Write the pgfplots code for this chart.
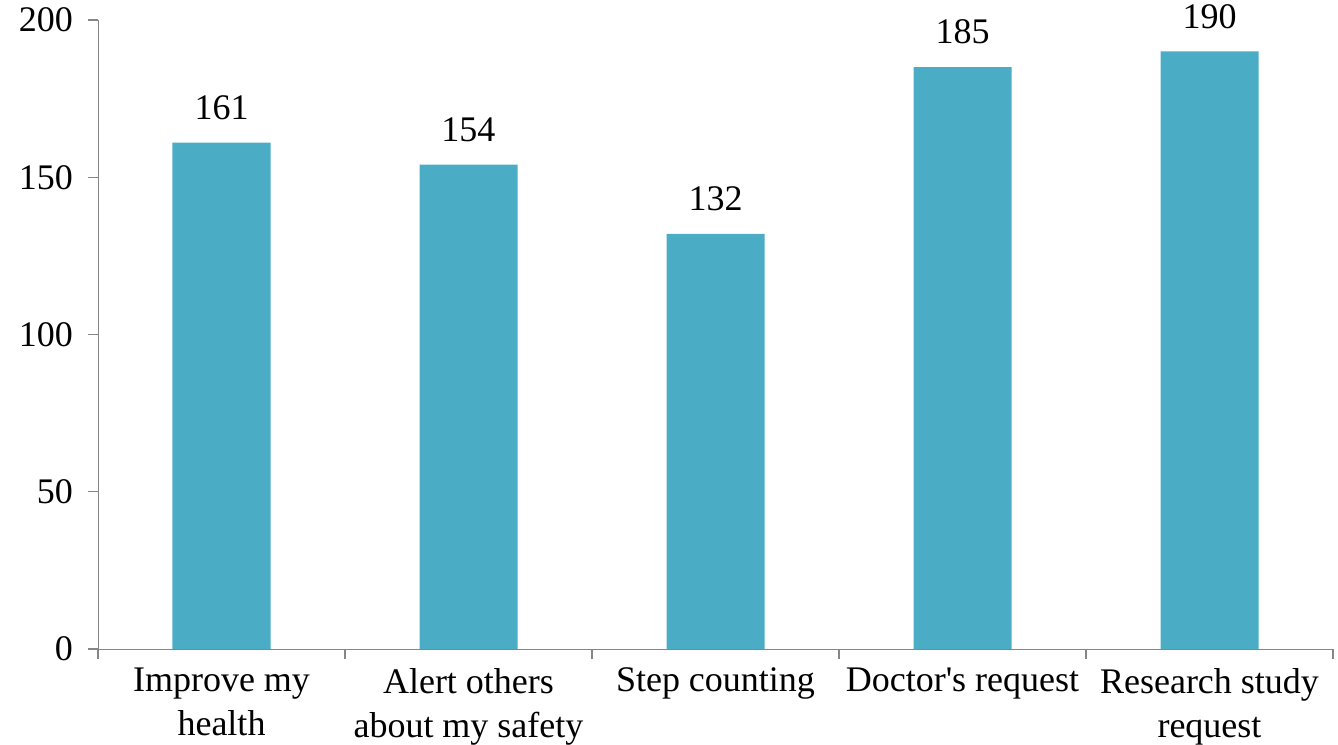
\documentclass[border=0pt]{standalone}
\usepackage{fontspec}
\setmainfont{Liberation Serif}[Ligatures=TeXOff]
\usepackage{pgfplots}
\pgfplotsset{compat=1.18}
\definecolor{bar}{HTML}{4BACC6}
\definecolor{axisgray}{HTML}{868686}
\begin{document}
\begin{tikzpicture}
\useasboundingbox (-49pt,-47.5pt) rectangle (620pt,324.5pt);
\begin{axis}[
    at={(0,0)}, anchor=south west,
    scale only axis,
    width=617.5pt, height=314.5pt,
    xmin=-0.5, xmax=4.5,
    ymin=0, ymax=200,
    ytick={0,50,...,200},
    xtick={0,...,4},
    xticklabels={Improve my\\health, Alert others\\about my safety, Step counting, Doctor's request, Research study\\request},
    minor xtick={-0.5,0.5,...,4.5},
    axis lines=left,
    axis line style={axisgray, -},
    tick style={axisgray, line width=0.6pt},
    major x tick style={draw=none},
    tick align=outside,
    major tick length=5pt,
    minor tick length=5pt,
    ybar, bar width=49pt,
    font=\fontsize{18}{20}\selectfont,
    /pgf/number format/assume math mode=true,
    x tick label style={align=center, yshift=-1pt, font=\fontsize{18}{22}\selectfont},
    y tick label style={xshift=-4pt},
    nodes near coords,
    nodes near coords style={font=\fontsize{18}{20}\selectfont, yshift=8pt},
    clip=false,
]
\addplot[fill=bar, draw=none] coordinates {(0,161) (1,154) (2,132) (3,185) (4,190)};
\end{axis}
\end{tikzpicture}
\end{document}
